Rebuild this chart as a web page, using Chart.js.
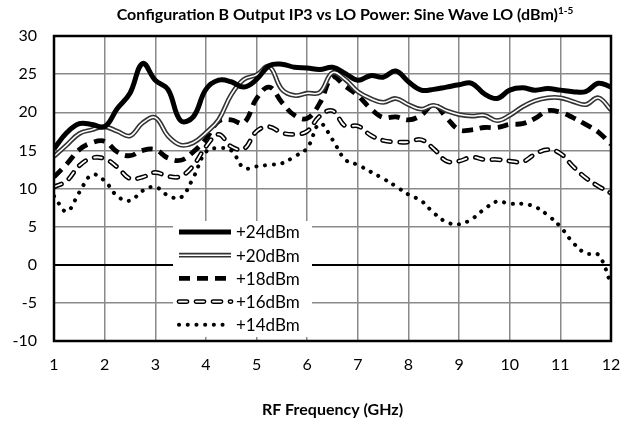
<!DOCTYPE html>
<html>
<head>
<meta charset="utf-8">
<script src="https://cdn.jsdelivr.net/npm/chart.js@4.4.0/dist/chart.umd.min.js"></script>
<style>
  html, body { margin: 0; padding: 0; background: #fff; }
  #wrap { position: relative; width: 637px; height: 424px; }
  #title {
    position: absolute; left: 0; top: 4px; width: 690px;
    text-align: center; font: bold 16px Lato, sans-serif; color: #000;
  }
  #title sup { font-size: 10px; }
</style>
</head>
<body>
<div id="wrap">
  <canvas id="ip3-chart" width="637" height="424"></canvas>
  <div id="title">Configuration B Output IP3 vs LO Power: Sine Wave LO (dBm)<sup>1-5</sup></div>
</div>
<script>
// RF frequency points (GHz)
var freqs = [1, 1.25, 1.5, 1.75, 2, 2.25, 2.5, 2.75, 3, 3.25, 3.5, 3.75, 4, 4.25, 4.5, 4.75,
             5, 5.25, 5.5, 5.75, 6, 6.25, 6.5, 6.75, 7, 7.25, 7.5, 7.75, 8, 8.25, 8.5, 8.75,
             9, 9.25, 9.5, 9.75, 10, 10.25, 10.5, 10.75, 11, 11.25, 11.5, 11.75, 12];

// output IP3 (dBm) per LO drive
var lo24 = [15.2, 17.3, 18.5, 18.4, 18.1, 20.5, 22.5, 26.4, 24.2, 23.0, 18.9, 19.4, 23.0, 24.2, 24.0, 23.3,
            24.3, 26.1, 26.3, 25.9, 25.8, 25.6, 25.9, 25.1, 24.2, 24.8, 24.6, 25.4, 24.0, 22.9, 23.0, 23.3,
            23.6, 23.8, 22.4, 21.8, 22.9, 23.2, 22.9, 23.1, 22.9, 22.7, 22.7, 23.8, 23.3];
var lo20 = [14.2, 15.7, 17.2, 17.7, 18.1, 17.5, 16.9, 18.6, 19.3, 16.9, 15.7, 16.0, 17.3, 19.0, 22.3, 24.3,
            24.9, 26.0, 23.0, 22.2, 22.5, 22.6, 25.2, 24.3, 22.7, 21.8, 21.3, 21.8, 21.0, 20.4, 20.9, 20.2,
            19.7, 19.5, 19.6, 18.9, 19.6, 20.7, 21.5, 21.9, 21.9, 21.4, 21.0, 21.9, 20.3];
var lo18 = [11.5, 13.2, 15.1, 16.0, 16.2, 14.8, 14.3, 15.0, 15.1, 14.0, 13.7, 14.8, 16.5, 18.8, 19.0, 18.6,
            21.8, 23.3, 21.3, 19.6, 19.2, 21.2, 24.6, 23.4, 22.2, 20.5, 19.3, 19.4, 19.0, 19.6, 21.0, 19.3,
            17.7, 17.7, 18.0, 18.0, 18.4, 18.5, 19.2, 20.2, 20.0, 19.3, 18.4, 17.4, 15.8];
var lo16 = [10.2, 11.0, 13.0, 14.0, 13.9, 12.8, 11.3, 11.5, 12.1, 11.6, 11.6, 13.0, 15.5, 17.1, 15.5, 15.2,
            17.5, 18.1, 17.3, 17.1, 17.5, 19.5, 20.2, 18.2, 18.2, 17.0, 16.3, 16.1, 16.1, 16.4, 15.2, 13.6,
            13.6, 14.1, 13.8, 13.8, 13.6, 13.5, 14.5, 15.1, 14.6, 12.9, 11.4, 10.3, 9.4];
var lo14 = [9.0, 7.0, 9.5, 11.8, 11.0, 9.0, 8.4, 9.7, 10.2, 9.1, 8.8, 11.4, 14.8, 15.3, 15.0, 12.7,
            12.9, 13.1, 13.3, 14.2, 15.3, 18.5, 16.4, 13.8, 13.1, 12.2, 11.3, 10.3, 9.2, 8.4, 6.8, 5.6,
            5.3, 6.0, 7.3, 8.3, 8.0, 8.0, 7.6, 6.5, 5.0, 2.9, 1.5, 1.3, -2.5];

var legendLabels = ['+24dBm', '+20dBm', '+18dBm', '+16dBm', '+14dBm'];

function pts(vals) {
    return freqs.map((f, i) => ({x: f, y: vals[i]}));
}

// line looks, drawn in this order (first = on top)
var looks = {
    solid:   [{color: '#000', width: 5, dash: []}],
    double:  [{color: '#fff', width: 1.6, dash: []}, {color: '#333', width: 4.8, dash: []}],
    dashed:  [{color: '#000', width: 4.8, dash: [11, 7]}],
    hollow:  [{color: '#fff', width: 1.8, dash: [8, 9], cap: 'round'}, {color: '#000', width: 4.8, dash: [8, 9], cap: 'round'}],
    dotted:  [{color: '#000', width: 4, dash: [0.1, 8.6], cap: 'round'}]
};
var seriesLooks = ['solid', 'double', 'dashed', 'hollow', 'dotted'];
var seriesData = [lo24, lo20, lo18, lo16, lo14];

var datasets = [];
seriesData.forEach((vals, s) => {
    looks[seriesLooks[s]].forEach((lk) => {
        datasets.push({
            label: legendLabels[s],
            data: pts(vals),
            borderColor: lk.color,
            borderWidth: lk.width,
            borderDash: lk.dash,
            borderCapStyle: lk.cap || 'butt',
            borderJoinStyle: 'round',
            tension: 0.4,
            pointRadius: 0,
            fill: false
        });
    });
});

var frame = {
    id: 'frame',
    afterDatasetsDraw(chart) {
        var c = chart.ctx, a = chart.chartArea;
        c.save();
        c.strokeStyle = '#000';
        c.lineWidth = 2.5;
        c.strokeRect(a.left, a.top, a.right - a.left, a.bottom - a.top);

        // legend box inside the plot
        c.fillStyle = '#fff';
        c.fillRect(173, 221, 139, 116);
        c.font = '17px Lato, sans-serif';
        c.textBaseline = 'middle';
        legendLabels.forEach((lab, i) => {
            var y = 232 + i * 23.2;
            var layers = looks[seriesLooks[i]].slice().reverse();
            layers.forEach((lk) => {
                c.beginPath();
                c.strokeStyle = lk.color;
                c.lineWidth = lk.width;
                c.setLineDash(lk.dash);
                c.lineCap = lk.cap || 'butt';
                c.moveTo(179, y);
                c.lineTo(231, y);
                c.stroke();
            });
            c.setLineDash([]);
            c.fillStyle = '#000';
            c.fillText(lab, 236, y + 1);
        });
        c.restore();
    }
};

var ctx = document.getElementById('ip3-chart').getContext('2d');
var myChart = new Chart(ctx, {
    type: 'line',
    data: {datasets: datasets},
    options: {
        responsive: false,
        animation: false,
        layout: {padding: {left: 0, right: 26, top: 36, bottom: 2}},
        plugins: {legend: {display: false}, tooltip: {enabled: false}},
        scales: {
            x: {
                type: 'linear', min: 1, max: 12,
                ticks: {stepSize: 1, color: '#000', font: {family: 'Lato', size: 16}, padding: 14},
                grid: {color: '#8a8a8a', lineWidth: 1.5, drawTicks: false},
                border: {display: false},
                title: {display: true, text: 'RF Frequency (GHz)', color: '#000',
                        font: {family: 'Lato', size: 16, weight: 'bold'}, padding: {top: 4, bottom: 3}},
                afterFit: (scale) => { scale.height = 81; }
            },
            y: {
                min: -10, max: 30,
                ticks: {stepSize: 5, color: '#000', font: {family: 'Lato', size: 16}, padding: 17},
                grid: {
                    color: (c) => c.tick && c.tick.value === 0 ? '#000' : '#8a8a8a',
                    lineWidth: (c) => c.tick && c.tick.value === 0 ? 2 : 1.5,
                    drawTicks: false
                },
                border: {display: false},
                afterFit: (scale) => { scale.width = 54; }
            }
        }
    },
    plugins: [frame]
});
</script>
</body>
</html>
